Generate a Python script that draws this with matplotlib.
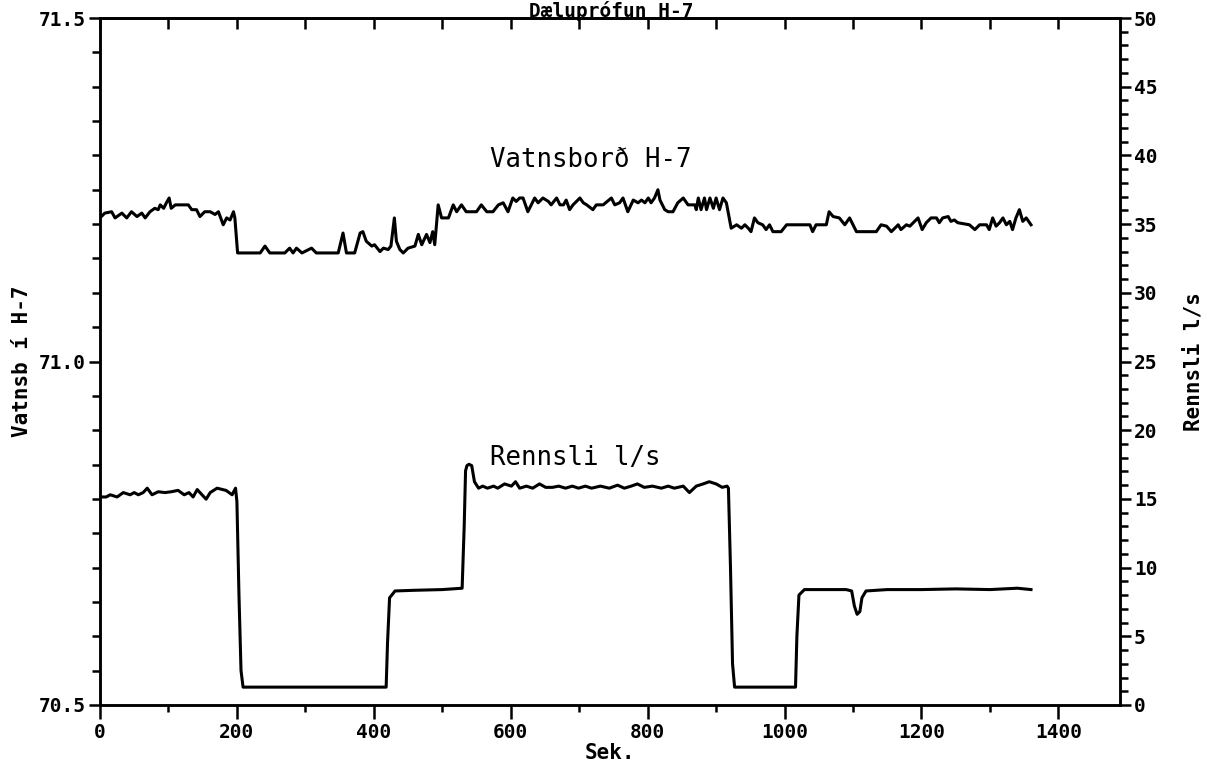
import matplotlib
matplotlib.use("Agg")
import matplotlib.pyplot as plt
from matplotlib.ticker import MultipleLocator, FormatStrFormatter

# ====== data ======
# water level in H-7 (left axis, m): (sek, level)
level_pts = [
    (0, 71.209), (7, 71.216), (17, 71.218), (22, 71.209), (32, 71.216), (39, 71.209),
    (46, 71.218), (54, 71.211), (61, 71.216), (66, 71.209), (73, 71.218), (80, 71.223),
    (85, 71.221), (88, 71.228), (93, 71.223), (97, 71.231), (101, 71.238), (104, 71.223),
    (110, 71.228), (114, 71.228), (129, 71.228), (134, 71.221), (141, 71.221), (146, 71.211),
    (153, 71.218), (161, 71.218), (168, 71.214), (173, 71.218), (180, 71.199), (185, 71.209),
    (190, 71.206), (195, 71.218), (197, 71.209), (201, 71.158), (234, 71.158), (241, 71.168),
    (248, 71.158), (270, 71.158), (277, 71.165), (282, 71.158), (287, 71.165), (295, 71.158),
    (309, 71.165), (316, 71.158), (348, 71.158), (355, 71.187), (360, 71.158), (372, 71.158),
    (380, 71.187), (384, 71.189), (389, 71.175), (397, 71.168), (401, 71.170), (409, 71.160),
    (414, 71.165), (421, 71.163), (425, 71.168), (430, 71.209), (433, 71.175), (438, 71.163),
    (443, 71.158), (450, 71.165), (460, 71.168), (465, 71.185), (470, 71.170), (477, 71.185),
    (482, 71.173), (486, 71.189), (489, 71.170), (494, 71.228), (499, 71.209), (509, 71.209),
    (516, 71.228), (521, 71.218), (528, 71.228), (535, 71.218), (550, 71.218), (557, 71.228),
    (565, 71.218), (574, 71.218), (582, 71.228), (589, 71.231), (596, 71.218), (603, 71.238),
    (608, 71.233), (613, 71.238), (618, 71.238), (625, 71.218), (635, 71.238), (640, 71.231),
    (647, 71.238), (655, 71.233), (659, 71.228), (667, 71.238), (672, 71.228), (677, 71.228),
    (681, 71.235), (686, 71.221), (691, 71.228), (696, 71.233), (701, 71.238), (706, 71.231),
    (711, 71.228), (720, 71.221), (725, 71.228), (735, 71.228), (747, 71.238), (752, 71.228),
    (759, 71.231), (764, 71.238), (771, 71.218), (779, 71.235), (786, 71.231), (791, 71.235),
    (796, 71.231), (801, 71.238), (805, 71.231), (810, 71.238), (815, 71.250), (818, 71.235),
    (825, 71.221), (830, 71.218), (837, 71.218), (844, 71.231), (852, 71.238), (859, 71.228),
    (869, 71.228), (871, 71.221), (874, 71.238), (878, 71.221), (883, 71.238), (886, 71.221),
    (891, 71.238), (896, 71.223), (900, 71.238), (905, 71.221), (910, 71.238), (915, 71.231),
    (922, 71.194), (930, 71.199), (937, 71.194), (942, 71.199), (947, 71.194), (951, 71.189),
    (956, 71.209), (961, 71.202), (968, 71.199), (973, 71.192), (978, 71.199), (983, 71.189),
    (995, 71.189), (1003, 71.199), (1037, 71.199), (1041, 71.189), (1046, 71.199), (1061, 71.199),
    (1065, 71.218), (1071, 71.211), (1080, 71.209), (1088, 71.199), (1095, 71.209), (1105, 71.189),
    (1134, 71.189), (1141, 71.199), (1149, 71.197), (1156, 71.189), (1166, 71.199), (1170, 71.192),
    (1178, 71.199), (1183, 71.197), (1190, 71.204), (1195, 71.209), (1201, 71.192), (1207, 71.202),
    (1214, 71.209), (1222, 71.209), (1226, 71.202), (1231, 71.209), (1239, 71.211), (1243, 71.204),
    (1248, 71.206), (1253, 71.202), (1270, 71.199), (1278, 71.192), (1285, 71.199), (1295, 71.199),
    (1299, 71.192), (1304, 71.209), (1309, 71.197), (1314, 71.202), (1319, 71.209), (1324, 71.199),
    (1329, 71.204), (1333, 71.192), (1338, 71.209), (1343, 71.221), (1348, 71.204), (1353, 71.209),
    (1360, 71.199),
]

# pumping rate (right axis, l/s): (sek, rate)
flow_pts = [
    (0, 15.14), (9, 15.14), (15, 15.30), (25, 15.14), (34, 15.46), (44, 15.30), (50, 15.46),
    (56, 15.30), (63, 15.46), (69, 15.78), (76, 15.30), (85, 15.52), (95, 15.46), (104, 15.52),
    (114, 15.62), (123, 15.30), (130, 15.46), (136, 15.14), (142, 15.68), (149, 15.30),
    (155, 14.98), (161, 15.46), (171, 15.78), (184, 15.62), (193, 15.30), (198, 15.78),
    (200, 14.8), (203, 8.0), (206, 2.5), (209, 1.3), (300, 1.3), (418, 1.3), (420, 4.5),
    (423, 7.8), (431, 8.3), (460, 8.35), (500, 8.4), (529, 8.5), (532, 13.0), (534, 17.04),
    (536, 17.42), (539, 17.52), (543, 17.42), (547, 16.25), (553, 15.78), (559, 15.93),
    (566, 15.78), (575, 15.93), (581, 15.78), (591, 16.09), (601, 15.93), (607, 16.25),
    (613, 15.78), (623, 15.93), (632, 15.78), (642, 16.09), (651, 15.84), (661, 15.84),
    (670, 15.93), (680, 15.78), (690, 15.93), (699, 15.78), (709, 15.93), (718, 15.78),
    (731, 15.93), (744, 15.78), (756, 16.0), (766, 15.78), (776, 15.93), (785, 16.09),
    (795, 15.84), (807, 15.93), (820, 15.78), (830, 15.93), (839, 15.78), (852, 15.93),
    (861, 15.46), (871, 15.93), (881, 16.09), (890, 16.25), (900, 16.09), (909, 15.84),
    (916, 15.93), (918, 15.78), (921, 10.0), (924, 3.0), (927, 1.3), (1000, 1.3), (1016, 1.3),
    (1018, 5.0), (1021, 8.0), (1029, 8.4), (1050, 8.4), (1090, 8.4), (1098, 8.3), (1102, 7.2),
    (1106, 6.6), (1110, 6.8), (1113, 7.8), (1119, 8.3), (1150, 8.4), (1200, 8.4), (1250, 8.45),
    (1300, 8.4), (1340, 8.5), (1360, 8.4),
]

level_t, level_v = zip(*level_pts)
flow_t, flow_v = zip(*flow_pts)

title = "Dæluprófun H-7"

# ====== plot ======
plt.rcParams["font.family"] = ["DejaVu Sans Mono", "DejaVu Sans"]

fig = plt.figure(figsize=(12.1, 7.68), dpi=100)
ax = fig.add_axes([100 / 1210, 63 / 768, 1020 / 1210, 687 / 768])
ax2 = ax.twinx()

ax.plot(level_t, level_v, color="black", lw=2.2, solid_joinstyle="round")
ax2.plot(flow_t, flow_v, color="black", lw=2.2, solid_joinstyle="round")

ax.set_xlim(0, 1490)
ax.set_ylim(70.5, 71.5)
ax2.set_ylim(0, 50)

ax.xaxis.set_major_locator(MultipleLocator(200))
ax.xaxis.set_minor_locator(MultipleLocator(100))
ax.yaxis.set_major_locator(MultipleLocator(0.5))
ax.yaxis.set_minor_locator(MultipleLocator(0.05))
ax2.yaxis.set_major_locator(MultipleLocator(5))
ax2.yaxis.set_minor_locator(MultipleLocator(1))
ax.yaxis.set_major_formatter(FormatStrFormatter("%.1f"))

ax.tick_params(axis="x", which="major", direction="out", length=10, width=1.8, pad=3)
ax.tick_params(axis="x", which="minor", direction="out", length=5, width=1.8)
ax.tick_params(axis="y", which="major", direction="out", length=8, width=1.8, pad=2)
ax.tick_params(axis="y", which="minor", direction="out", length=6, width=1.8)
ax2.tick_params(axis="y", which="major", direction="out", length=8, width=1.8, pad=2)
ax2.tick_params(axis="y", which="minor", direction="out", length=6, width=1.8)
for lab in ax.get_xticklabels() + ax.get_yticklabels() + ax2.get_yticklabels():
    lab.set_fontsize(14)
    lab.set_fontweight("bold")

# top ticks point into the plot
top = ax.secondary_xaxis("top")
top.xaxis.set_major_locator(MultipleLocator(100))
top.tick_params(axis="x", direction="in", length=8, width=1.8, labeltop=False)

for a in (ax, ax2):
    for s in a.spines.values():
        s.set_linewidth(1.8)
top.spines["top"].set_linewidth(1.8)

ax.set_xlabel("Sek.", fontsize=15, fontweight="bold", labelpad=1)
ax.set_ylabel("Vatnsb í H-7", fontsize=15, fontweight="bold", labelpad=5)
ax2.set_ylabel("Rennsli l/s", fontsize=15, fontweight="bold", labelpad=19)

ax.text(569, 71.294, "Vatnsborð H-7", fontsize=18.5, va="center", ha="left")
ax.text(569, 70.860, "Rennsli l/s", fontsize=18.5, va="center", ha="left")

fig.text(0.505, 0.999, title, fontsize=14, fontweight="bold", ha="center", va="top")

fig.savefig("out.png", dpi=100)
